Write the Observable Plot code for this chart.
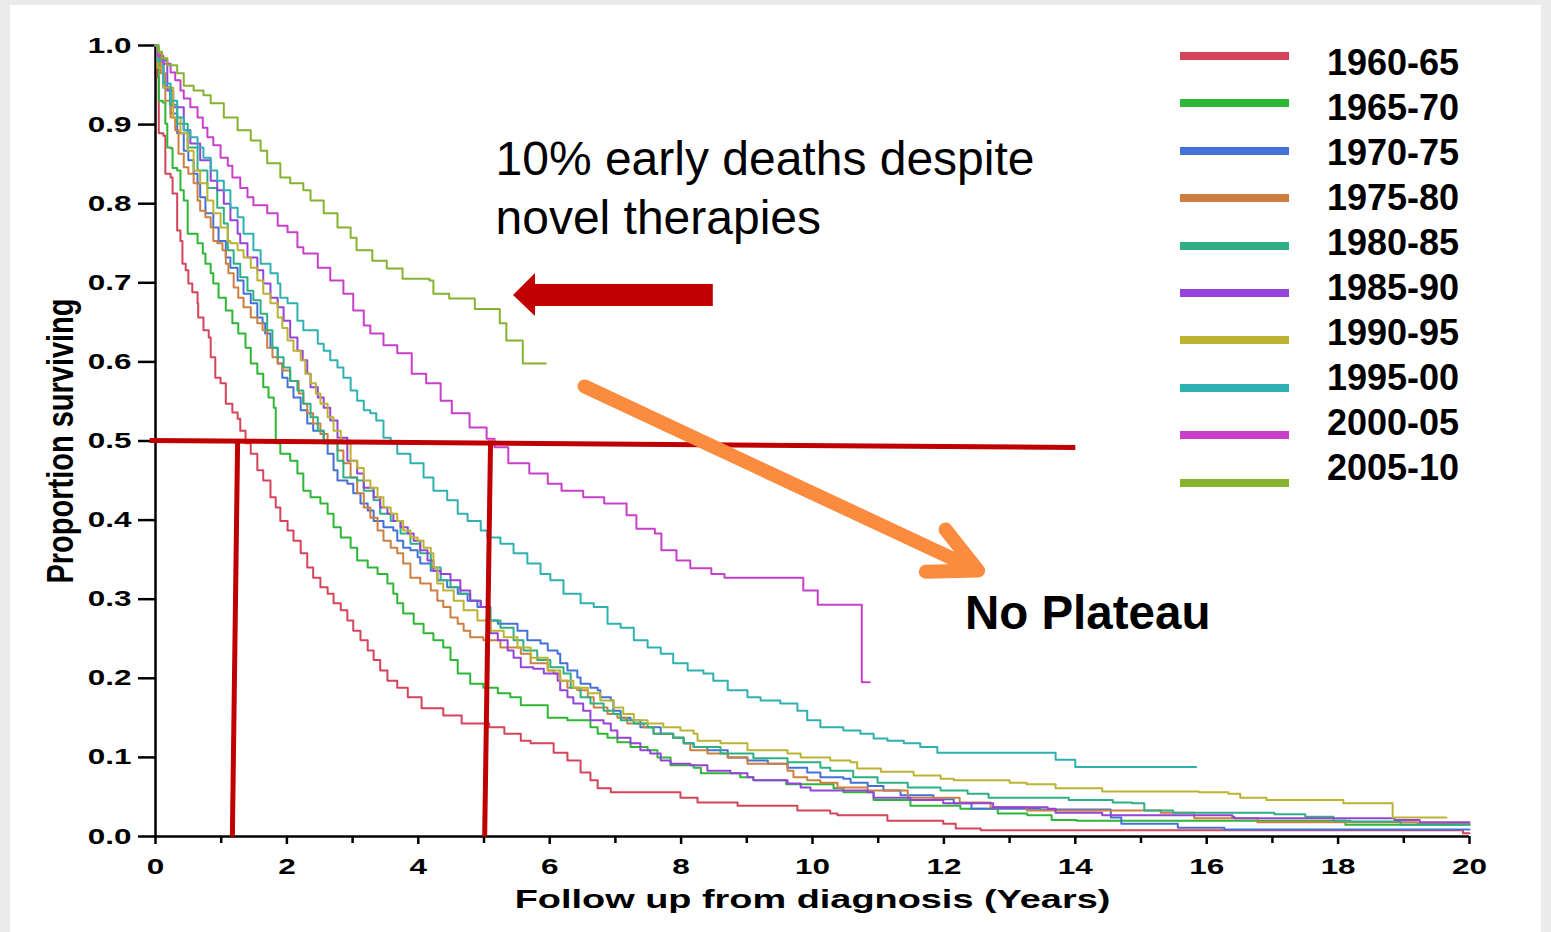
<!DOCTYPE html>
<html>
<head>
<meta charset="utf-8">
<script src="https://cdn.jsdelivr.net/npm/d3@7"></script>
<script src="https://cdn.jsdelivr.net/npm/@observablehq/plot@0.6"></script>
<style>
html,body{margin:0;padding:0;background:#ebebeb;width:1551px;height:932px;overflow:hidden;font-family:"Liberation Sans",Arial,Helvetica,sans-serif;}
#panel{position:absolute;left:10px;top:5px;width:1531px;height:927px;background:#fff;}
#chart{position:absolute;left:0;top:0;}
#legend{position:absolute;left:0;top:0;}
.sw{position:absolute;left:1180px;width:109px;height:8px;}
.lb{position:absolute;left:1327px;font-size:36px;font-weight:bold;line-height:36px;color:#000;white-space:nowrap;}
</style>
</head>
<body>
<div id="panel"></div>
<div id="chart"></div>
<div id="legend"></div>
<script>
// ---------- categories, colours, ticks ----------
const periods = ["1960-65","1965-70","1970-75","1975-80","1980-85","1985-90","1990-95","1995-00","2000-05","2005-10"];
const colors  = ["#d4445a","#2eb637","#4571d7","#cd7f42","#2fb084","#9444d8","#bdb333","#2fb1b2","#c840c9","#86b230"];
const xTicks = [0,2,4,6,8,10,12,14,16,18,20];
const xMinorTicks = [1,3,5,7,9,11,13,15,17,19];
const yTicks = [0,0.1,0.2,0.3,0.4,0.5,0.6,0.7,0.8,0.9,1.0];

// ---------- survival curves [years, proportion surviving] ----------
const s1960_65 = [[0,1],[0.03,0.960],[0.05,0.889],[0.12,0.886],[0.15,0.838],[0.23,0.833],[0.26,0.813],[0.33,0.766],[0.38,0.753],[0.41,0.724],[0.46,0.716],[0.50,0.699],[0.56,0.688],[0.64,0.674],[0.65,0.656],[0.73,0.640],[0.81,0.631],[0.84,0.606],[0.91,0.580],[0.99,0.573],[1.07,0.547],[1.17,0.536],[1.25,0.528],[1.29,0.513],[1.37,0.497],[1.45,0.484],[1.55,0.463],[1.64,0.450],[1.75,0.429],[1.83,0.416],[1.90,0.399],[2.01,0.387],[2.10,0.374],[2.21,0.358],[2.31,0.340],[2.40,0.327],[2.51,0.315],[2.62,0.307],[2.71,0.295],[2.82,0.286],[2.92,0.273],[3.01,0.260],[3.12,0.248],[3.23,0.235],[3.32,0.223],[3.42,0.210],[3.53,0.197],[3.68,0.188],[3.84,0.176],[4.05,0.162],[4.38,0.153],[4.66,0.143],[5.08,0.138],[5.31,0.130],[5.56,0.121],[5.71,0.118],[6.06,0.106],[6.27,0.096],[6.47,0.081],[6.62,0.071],[6.73,0.061],[6.93,0.056],[7.99,0.049],[8.25,0.043],[8.86,0.039],[9.77,0.033],[10.27,0.029],[10.38,0.027],[11.14,0.020],[11.99,0.016],[12.18,0.010],[12.56,0.008],[19.9,0.004],[20,0.004]];
const s1965_70 = [[0,1],[0.05,0.930],[0.11,0.928],[0.15,0.901],[0.18,0.871],[0.23,0.870],[0.26,0.845],[0.33,0.842],[0.38,0.817],[0.43,0.804],[0.49,0.762],[0.64,0.750],[0.72,0.737],[0.76,0.724],[0.84,0.712],[0.88,0.699],[0.96,0.681],[1.07,0.665],[1.17,0.649],[1.26,0.636],[1.37,0.618],[1.45,0.598],[1.55,0.585],[1.64,0.568],[1.72,0.555],[1.80,0.542],[1.83,0.497],[1.90,0.484],[2.05,0.475],[2.16,0.459],[2.25,0.437],[2.36,0.429],[2.51,0.421],[2.62,0.408],[2.71,0.391],[2.82,0.378],[2.97,0.365],[3.07,0.349],[3.23,0.340],[3.38,0.332],[3.53,0.320],[3.62,0.307],[3.68,0.295],[3.77,0.282],[3.93,0.269],[4.08,0.257],[4.23,0.248],[4.38,0.239],[4.49,0.223],[4.60,0.206],[4.79,0.193],[4.99,0.188],[5.21,0.181],[5.40,0.176],[5.56,0.166],[5.97,0.150],[6.27,0.147],[6.62,0.138],[6.73,0.130],[6.88,0.125],[7.03,0.119],[7.23,0.113],[7.49,0.109],[7.64,0.100],[7.84,0.090],[8.19,0.087],[8.30,0.080],[8.90,0.075],[9.10,0.071],[9.60,0.066],[10.32,0.061],[10.47,0.056],[10.93,0.046],[11.49,0.039],[12.25,0.035],[12.82,0.029],[13.27,0.027],[13.64,0.021],[14.02,0.020],[18.11,0.015],[20,0.015]];
const s1970_75 = [[0,1],[0.03,0.985],[0.12,0.947],[0.23,0.914],[0.33,0.889],[0.43,0.867],[0.50,0.855],[0.58,0.838],[0.64,0.826],[0.68,0.808],[0.76,0.788],[0.88,0.770],[0.96,0.753],[1.07,0.732],[1.14,0.719],[1.25,0.703],[1.34,0.686],[1.45,0.674],[1.55,0.656],[1.63,0.649],[1.67,0.636],[1.75,0.618],[1.86,0.598],[1.93,0.580],[2.01,0.568],[2.10,0.555],[2.21,0.539],[2.31,0.522],[2.40,0.513],[2.56,0.497],[2.62,0.484],[2.71,0.463],[2.77,0.450],[2.92,0.446],[3.01,0.434],[3.12,0.421],[3.23,0.412],[3.32,0.399],[3.47,0.391],[3.62,0.387],[3.68,0.374],[3.77,0.365],[3.88,0.362],[3.99,0.353],[4.03,0.345],[4.19,0.336],[4.29,0.324],[4.44,0.315],[4.60,0.307],[4.75,0.298],[4.90,0.290],[5.05,0.273],[5.21,0.269],[5.51,0.260],[5.66,0.248],[5.86,0.244],[5.97,0.235],[6.12,0.231],[6.16,0.219],[6.27,0.210],[6.42,0.201],[6.47,0.193],[6.62,0.188],[6.73,0.185],[6.77,0.176],[6.93,0.172],[6.97,0.159],[7.08,0.150],[7.23,0.147],[7.38,0.138],[7.69,0.130],[7.88,0.125],[8.04,0.118],[8.19,0.113],[8.40,0.109],[8.71,0.100],[9.01,0.096],[9.32,0.092],[9.62,0.087],[9.92,0.081],[10.12,0.075],[10.47,0.073],[10.58,0.068],[10.84,0.064],[11.08,0.058],[11.34,0.052],[11.84,0.047],[12.15,0.042],[12.42,0.035],[13.46,0.034],[14.54,0.024],[14.70,0.016],[15.56,0.011],[16.27,0.009],[20,0.009]];
const s1975_80 = [[0,1],[0.03,0.990],[0.08,0.965],[0.15,0.930],[0.23,0.909],[0.30,0.893],[0.35,0.863],[0.43,0.846],[0.50,0.838],[0.58,0.826],[0.64,0.804],[0.68,0.791],[0.76,0.783],[0.84,0.770],[0.88,0.753],[0.94,0.750],[1.02,0.741],[1.07,0.724],[1.11,0.712],[1.19,0.694],[1.26,0.681],[1.34,0.669],[1.45,0.656],[1.55,0.649],[1.63,0.640],[1.70,0.618],[1.78,0.606],[1.86,0.598],[1.93,0.589],[2.05,0.576],[2.18,0.560],[2.25,0.547],[2.31,0.535],[2.40,0.522],[2.51,0.509],[2.62,0.501],[2.77,0.488],[2.86,0.472],[2.97,0.454],[3.07,0.434],[3.17,0.416],[3.27,0.403],[3.38,0.387],[3.47,0.374],[3.58,0.365],[3.68,0.358],[3.77,0.345],[3.88,0.327],[4.03,0.320],[4.19,0.311],[4.29,0.298],[4.38,0.290],[4.49,0.277],[4.60,0.269],[4.69,0.260],[4.79,0.252],[4.99,0.248],[5.25,0.239],[5.56,0.231],[5.71,0.219],[5.97,0.210],[6.06,0.206],[6.16,0.197],[6.27,0.188],[6.42,0.185],[6.58,0.176],[6.67,0.163],[6.88,0.155],[7.03,0.150],[7.18,0.143],[7.43,0.138],[7.58,0.130],[7.88,0.125],[8.04,0.118],[8.14,0.109],[8.40,0.105],[8.71,0.100],[9.01,0.092],[9.62,0.083],[9.71,0.075],[9.92,0.071],[10.12,0.068],[10.38,0.062],[10.84,0.058],[11.45,0.049],[12.24,0.043],[12.71,0.037],[13.26,0.033],[15.30,0.030],[15.81,0.023],[16.77,0.018],[19.21,0.016],[20,0.016]];
const s1980_85 = [[0,1],[0.03,0.981],[0.12,0.947],[0.22,0.925],[0.33,0.901],[0.49,0.871],[0.64,0.842],[0.79,0.820],[0.94,0.795],[1.04,0.775],[1.10,0.741],[1.19,0.724],[1.29,0.707],[1.40,0.690],[1.49,0.678],[1.60,0.661],[1.70,0.640],[1.78,0.618],[1.86,0.606],[1.95,0.593],[2.05,0.576],[2.16,0.564],[2.25,0.547],[2.36,0.530],[2.47,0.513],[2.56,0.501],[2.62,0.497],[2.77,0.475],[2.86,0.454],[3.07,0.450],[3.17,0.437],[3.32,0.425],[3.42,0.408],[3.58,0.399],[3.73,0.383],[3.88,0.370],[4.03,0.358],[4.19,0.340],[4.34,0.324],[4.49,0.315],[4.64,0.307],[4.79,0.298],[4.95,0.290],[5.10,0.273],[5.25,0.264],[5.45,0.248],[5.60,0.235],[5.81,0.223],[6.01,0.214],[6.21,0.206],[6.32,0.188],[6.47,0.176],[6.62,0.168],[6.82,0.159],[6.97,0.155],[7.08,0.147],[7.28,0.143],[7.49,0.138],[7.58,0.130],[7.88,0.125],[8.04,0.118],[8.19,0.113],[8.60,0.105],[9.10,0.099],[9.62,0.094],[10.12,0.087],[10.27,0.083],[10.62,0.075],[10.99,0.068],[11.45,0.062],[11.95,0.058],[12.36,0.054],[12.68,0.049],[13.90,0.046],[14.57,0.043],[14.86,0.042],[15.05,0.033],[15.49,0.030],[17.03,0.028],[17.50,0.025],[17.93,0.020],[18.19,0.019],[18.95,0.015],[20,0.015]];
const s1985_90 = [[0,1],[0.03,0.981],[0.18,0.943],[0.27,0.922],[0.43,0.893],[0.53,0.876],[0.68,0.855],[0.84,0.829],[0.94,0.817],[1.04,0.800],[1.14,0.779],[1.25,0.762],[1.29,0.750],[1.40,0.732],[1.55,0.716],[1.64,0.699],[1.75,0.681],[1.86,0.669],[1.95,0.652],[2.05,0.631],[2.16,0.614],[2.24,0.602],[2.31,0.585],[2.36,0.568],[2.47,0.555],[2.56,0.542],[2.66,0.526],[2.77,0.504],[2.92,0.475],[3.07,0.459],[3.17,0.441],[3.32,0.429],[3.42,0.416],[3.53,0.408],[3.62,0.399],[3.73,0.391],[3.84,0.383],[3.93,0.374],[4.03,0.362],[4.14,0.349],[4.23,0.336],[4.34,0.332],[4.49,0.324],[4.64,0.311],[4.79,0.298],[4.95,0.290],[5.05,0.273],[5.10,0.257],[5.21,0.248],[5.36,0.235],[5.45,0.226],[5.56,0.214],[5.75,0.212],[5.91,0.206],[6.12,0.197],[6.16,0.185],[6.27,0.176],[6.36,0.168],[6.51,0.159],[6.62,0.147],[6.82,0.143],[6.93,0.134],[7.03,0.125],[7.23,0.118],[7.38,0.109],[7.53,0.105],[7.69,0.096],[7.84,0.092],[8.14,0.090],[8.40,0.083],[8.75,0.080],[9.01,0.075],[9.10,0.071],[9.62,0.067],[9.82,0.062],[9.97,0.058],[10.84,0.056],[10.93,0.049],[11.49,0.046],[11.99,0.042],[12.75,0.037],[13.58,0.035],[13.70,0.030],[14.41,0.027],[16.39,0.025],[16.42,0.023],[18.86,0.021],[19.24,0.018],[20,0.018]];
const s1990_95 = [[0,1],[0.03,0.972],[0.12,0.947],[0.27,0.909],[0.38,0.889],[0.49,0.867],[0.58,0.842],[0.68,0.826],[0.79,0.804],[0.88,0.788],[0.99,0.770],[1.10,0.753],[1.14,0.750],[1.25,0.741],[1.34,0.732],[1.45,0.719],[1.55,0.703],[1.64,0.686],[1.75,0.674],[1.86,0.656],[1.93,0.643],[2.01,0.627],[2.10,0.614],[2.21,0.602],[2.28,0.585],[2.36,0.573],[2.44,0.560],[2.51,0.547],[2.62,0.530],[2.71,0.513],[2.82,0.501],[2.86,0.497],[2.97,0.475],[3.07,0.466],[3.17,0.450],[3.27,0.441],[3.38,0.429],[3.47,0.416],[3.58,0.408],[3.68,0.399],[3.77,0.387],[3.88,0.378],[3.99,0.374],[4.08,0.365],[4.19,0.358],[4.23,0.340],[4.29,0.320],[4.38,0.311],[4.54,0.298],[4.69,0.286],[4.90,0.273],[5.10,0.260],[5.30,0.252],[5.51,0.239],[5.71,0.226],[5.97,0.210],[6.16,0.197],[6.36,0.188],[6.58,0.181],[6.77,0.172],[6.97,0.163],[7.12,0.155],[7.28,0.147],[7.49,0.143],[7.73,0.138],[7.99,0.134],[8.19,0.130],[8.25,0.121],[8.60,0.118],[9.01,0.109],[9.62,0.105],[9.82,0.100],[10.27,0.096],[10.58,0.094],[10.68,0.086],[11.04,0.082],[11.54,0.077],[11.95,0.073],[12.15,0.071],[13.00,0.068],[13.26,0.066],[13.70,0.061],[14.41,0.057],[15.88,0.056],[16.33,0.054],[16.51,0.049],[16.91,0.046],[18.08,0.042],[18.83,0.024],[19.65,0.024]];
const s1995_00 = [[0,1],[0.03,0.981],[0.12,0.952],[0.23,0.930],[0.33,0.909],[0.43,0.893],[0.53,0.884],[0.64,0.871],[0.73,0.858],[0.84,0.842],[0.94,0.829],[1.04,0.817],[1.14,0.795],[1.25,0.783],[1.34,0.762],[1.49,0.741],[1.60,0.724],[1.75,0.712],[1.86,0.699],[1.90,0.681],[2.01,0.674],[2.16,0.652],[2.25,0.640],[2.47,0.623],[2.56,0.614],[2.66,0.602],[2.77,0.593],[2.86,0.580],[2.97,0.564],[3.07,0.551],[3.17,0.539],[3.27,0.535],[3.36,0.526],[3.47,0.504],[3.58,0.497],[3.68,0.484],[3.88,0.472],[4.08,0.454],[4.23,0.437],[4.44,0.425],[4.60,0.408],[4.75,0.399],[4.95,0.387],[5.05,0.378],[5.25,0.370],[5.45,0.358],[5.66,0.345],[5.86,0.332],[6.01,0.324],[6.21,0.307],[6.47,0.295],[6.67,0.290],[6.88,0.269],[7.08,0.264],[7.28,0.248],[7.49,0.239],[7.69,0.231],[7.88,0.219],[8.10,0.210],[8.34,0.206],[8.49,0.197],[8.71,0.185],[9.01,0.176],[9.21,0.172],[9.51,0.168],[9.77,0.159],[9.92,0.147],[10.12,0.138],[10.47,0.134],[10.73,0.130],[10.93,0.124],[11.14,0.121],[11.39,0.118],[11.64,0.113],[11.90,0.106],[13.70,0.097],[14.00,0.088],[15.84,0.088]];
const s2000_05 = [[0,1],[0.03,0.987],[0.12,0.977],[0.23,0.966],[0.30,0.956],[0.38,0.943],[0.43,0.933],[0.53,0.922],[0.64,0.909],[0.72,0.896],[0.79,0.884],[0.88,0.874],[0.99,0.858],[1.10,0.848],[1.17,0.833],[1.29,0.820],[1.40,0.808],[1.49,0.798],[1.70,0.788],[1.86,0.772],[2.01,0.764],[2.16,0.745],[2.25,0.737],[2.47,0.719],[2.66,0.703],[2.86,0.686],[3.01,0.665],[3.17,0.646],[3.27,0.636],[3.47,0.621],[3.68,0.611],[3.90,0.585],[4.12,0.573],[4.34,0.551],[4.51,0.535],[4.78,0.517],[5.04,0.503],[5.16,0.492],[5.37,0.472],[5.69,0.459],[5.97,0.446],[6.18,0.437],[6.51,0.429],[6.83,0.421],[7.17,0.406],[7.32,0.389],[7.60,0.383],[7.70,0.362],[7.93,0.349],[8.14,0.339],[8.46,0.332],[8.66,0.327],[9.86,0.311],[10.08,0.293],[10.75,0.195],[10.87,0.195]];
const s2005_10 = [[0,1],[0.04,0.992],[0.10,0.984],[0.18,0.975],[0.33,0.965],[0.43,0.949],[0.58,0.943],[0.73,0.937],[0.84,0.927],[1.04,0.909],[1.25,0.893],[1.45,0.880],[1.60,0.867],[1.70,0.851],[1.90,0.833],[2.05,0.826],[2.25,0.817],[2.36,0.804],[2.56,0.788],[2.77,0.770],[2.97,0.757],[3.06,0.741],[3.30,0.728],[3.52,0.718],[3.76,0.705],[4.17,0.703],[4.23,0.686],[4.47,0.680],[4.86,0.667],[5.24,0.649],[5.34,0.627],[5.59,0.598],[5.94,0.598]];

const curves = [s1960_65,s1965_70,s1970_75,s1975_80,s1980_85,s1985_90,s1990_95,s1995_00,s2000_05,s2005_10];
const rows = curves.flatMap((c, i) => c.map(([t, s]) => ({period: periods[i], t, s})));

// ---------- annotations (data units) ----------
const medianLines = [
  {x1: -0.09, y1: 0.5006, x2: 14.0, y2: 0.4918},
  {x1: 1.25, y1: 0.5006, x2: 1.17, y2: 0},
  {x1: 5.10, y1: 0.5006, x2: 5.01, y2: 0}
];
const redArrowShaft = [{x1: 5.76, x2: 8.49, y1: 0.6979, y2: 0.6700}];
const redArrowHead = [{x: 5.449, lo: 0.6839, hi: 0.6839}, {x: 5.784, lo: 0.6574, hi: 0.7118}];
const orangeArrow = [{x1: 6.53, y1: 0.569, x2: 12.52, y2: 0.3363}];
const noteEarly = [{x: 5.175, y: 0.7623, label: "10% early deaths despite\nnovel therapies"}];
const notePlateau = [{x: 12.32, y: 0.2617, label: "No Plateau"}];

const chart = Plot.plot({
  width: 1551, height: 932,
  marginLeft: 155, marginRight: 82, marginTop: 45, marginBottom: 96,
  style: {background: "transparent", color: "#000", fontFamily: "'Liberation Sans', Arial, Helvetica, sans-serif", fontWeight: "bold", overflow: "visible"},
  x: {domain: [0, 20]},
  y: {domain: [0, 1]},
  color: {domain: periods, range: colors},
  marks: [
    Plot.axisY({ticks: yTicks, tickSize: 17, tickPadding: 7, tickFormat: d3.format(".1f"), fontSize: 22, strokeWidth: 2.5, label: null}),
    Plot.axisX({ticks: xTicks, tickSize: 8, tickPadding: 14, tickFormat: d3.format("d"), fontSize: 22, strokeWidth: 2.5, label: null}),
    Plot.axisX({ticks: xMinorTicks, tickSize: 7, tickFormat: () => "", strokeWidth: 2.5, label: null}),
    Plot.ruleX([0], {strokeWidth: 2.5}),
    Plot.ruleY([0], {strokeWidth: 2.5}),
    Plot.line(rows, {x: "t", y: "s", z: "period", stroke: "period", curve: "step-after", strokeWidth: 2}),
    Plot.link(medianLines, {x1: "x1", y1: "y1", x2: "x2", y2: "y2", stroke: "#c00000", strokeWidth: 5}),
    Plot.rect(redArrowShaft, {x1: "x1", x2: "x2", y1: "y1", y2: "y2", fill: "#c00000"}),
    Plot.areaY(redArrowHead, {x: "x", y1: "lo", y2: "hi", fill: "#c00000", curve: "linear"}),
    Plot.arrow(orangeArrow, {x1: "x1", y1: "y1", x2: "x2", y2: "y2", stroke: "#fb8b3f", strokeWidth: 14, headAngle: 53, headLength: 5.6, strokeLinecap: "round"}),
    Plot.text(noteEarly, {x: "x", y: "y", text: "label", textAnchor: "start", lineAnchor: "bottom", lineHeight: 1.21, fontSize: 48, fontWeight: "normal", fill: "#000"}),
    Plot.text(notePlateau, {x: "x", y: "y", text: "label", textAnchor: "start", lineAnchor: "bottom", fontSize: 47.5, fontWeight: "bold", fill: "#000"}),
    Plot.text(["Follow up from diagnosis (Years)"], {frameAnchor: "bottom", dy: 71, lineAnchor: "bottom", textAnchor: "middle", fontSize: 26.5, fontWeight: "bold"}),
    Plot.text(["Proportion surviving"], {frameAnchor: "left", dx: -83, rotate: -90, lineAnchor: "bottom", textAnchor: "middle", fontSize: 29, fontWeight: "bold"})
  ]
});

// The original graph is horizontally stretched: widen axis texts (not the slide annotations)
const slideNotes = ["10% early", "novel therapies", "No Plateau"];
chart.querySelectorAll("text").forEach(el => {
  const content = el.textContent || "";
  if (slideNotes.some(n => content.includes(n))) return;
  const tr = el.getAttribute("transform") || "";
  if (/rotate/.test(tr)) el.setAttribute("transform", tr.replace("rotate", "scale(1.25,1) rotate"));
  else el.setAttribute("transform", tr + " scale(1.43,1)");
});
document.getElementById("chart").appendChild(chart);

// ---------- legend ----------
const legend = document.getElementById("legend");
periods.forEach((p, i) => {
  const sw = document.createElement("div");
  sw.className = "sw";
  sw.style.top = (56 + i * 47.4 - 4) + "px";
  sw.style.background = colors[i];
  legend.appendChild(sw);
  const lb = document.createElement("div");
  lb.className = "lb";
  lb.style.top = (63 + i * 44.9 - 17.6) + "px";
  lb.textContent = p;
  legend.appendChild(lb);
});
</script>
</body>
</html>
